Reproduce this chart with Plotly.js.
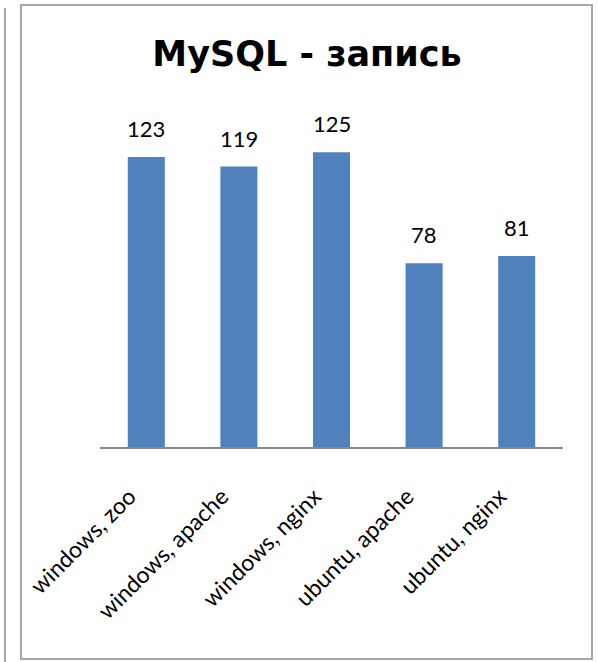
<!DOCTYPE html>
<html>
<head>
<meta charset="utf-8">
<script src="https://cdn.plot.ly/plotly-3.0.1.min.js"></script>
<style>html,body{margin:0;padding:0;background:#fff;}#chart{width:598px;height:662px;}</style>
</head>
<body>
<div id="chart"></div>
<script>
const categories = ["windows, zoo", "windows, apache", "windows, nginx", "ubuntu, apache", "ubuntu, nginx"];
const values = [123, 119, 125, 78, 81];
const valueLabels = ["123", "119", "125", "78", "81"];
const chartTitle = "MySQL - запись";

const L = 100, R = 35, T = 117, B = 215, W = 598, H = 662;
const pw = W - L - R, ph = H - T - B;
const px = v => (v - L) / pw;
const py = v => (H - B - v) / ph;

const trace = {
  type: 'bar',
  x: categories,
  y: values,
  width: 0.4,
  marker: {color: '#4F81BD'},
  hoverinfo: 'none'
};

const annotations = categories.map((c, i) => ({
  x: c, y: values[i], xref: 'x', yref: 'y',
  text: valueLabels[i], showarrow: false,
  xanchor: 'center', yanchor: 'bottom', yshift: 13,
  font: {family: 'Lato, sans-serif', size: 22, color: '#000'}
}));

const layout = {
  width: W, height: H,
  margin: {l: L, r: R, t: T, b: B, pad: 0},
  paper_bgcolor: '#fff', plot_bgcolor: '#fff',
  showlegend: false,
  font: {family: 'Lato, sans-serif', color: '#000'},
  title: {text: '<b>' + chartTitle + '</b>', font: {family: 'DejaVu Sans, sans-serif', size: 35, color: '#000'},
          x: 307/598, xanchor: 'center', y: 1 - 54/662, yanchor: 'middle', yref: 'container'},
  xaxis: {
    tickangle: -45, tickfont: {family: 'Lato, sans-serif', size: 23, color: '#000'},
    ticklabelstandoff: 25, ticklabelshift: -17,
    showline: true, linecolor: '#868686', linewidth: 2,
    ticks: '', showgrid: false, zeroline: false, fixedrange: true
  },
  yaxis: {
    range: [0, 140], visible: false, showgrid: false, zeroline: false, fixedrange: true
  },
  annotations: annotations,
  shapes: [
    {type: 'rect', xref: 'paper', yref: 'paper', x0: px(21), x1: px(592), y0: py(659), y1: py(5),
     line: {color: '#a6a6a6', width: 2}, fillcolor: 'rgba(0,0,0,0)'},
    {type: 'line', xref: 'paper', yref: 'paper', x0: px(5), x1: px(5), y0: py(662), y1: py(8),
     line: {color: '#a6a6a6', width: 2}}
  ]
};

Plotly.newPlot('chart', [trace], layout, {displayModeBar: false, staticPlot: true});
</script>
</body>
</html>
